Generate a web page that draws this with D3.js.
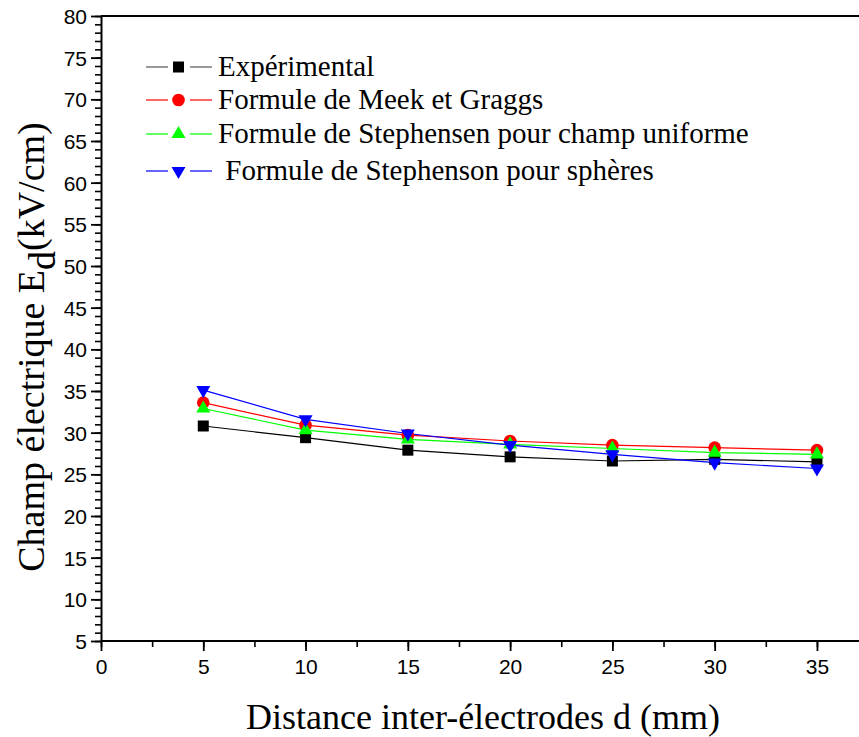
<!DOCTYPE html>
<html>
<head>
<meta charset="utf-8">
<script src="https://cdn.jsdelivr.net/npm/d3@7"></script>
<style>
  body { margin: 0; background: #fff; }
  svg { display: block; }
</style>
</head>
<body>
<div id="chart"></div>
<script>
  // data
  var distances = [5, 10, 15, 20, 25, 30, 35];
  var experimental = [30.8, 29.4, 27.9, 27.1, 26.6, 26.8, 26.5];
  var meekGraggs = [33.6, 30.9, 29.7, 29.0, 28.5, 28.2, 27.9];
  var stephensenUniform = [32.9, 30.3, 29.2, 28.6, 28.1, 27.6, 27.4];
  var stephensonSpheres = [35.1, 31.6, 29.9, 28.5, 27.4, 26.4, 25.7];
  var xTicks = [0, 5, 10, 15, 20, 25, 30, 35];
  var yTicks = [5, 10, 15, 20, 25, 30, 35, 40, 45, 50, 55, 60, 65, 70, 75, 80];
  var seriesNames = ['Expérimental', 'Formule de Meek et Graggs',
    'Formule de Stephensen pour champ uniforme', ' Formule de Stephenson pour sphères'];

(function() {
  'use strict';

  var width = 859, height = 737;
  var plotLeft = 101, plotTop = 16, plotBottom = 641;

  var series = [
    { name: seriesNames[0], values: experimental, color: '#000', shape: 'square' },
    { name: seriesNames[1], values: meekGraggs, color: '#ff0000', shape: 'circle' },
    { name: seriesNames[2], values: stephensenUniform, color: '#00ff00', shape: 'up' },
    { name: seriesNames[3], values: stephensonSpheres, color: '#0000ff', shape: 'down' }
  ];

  var svg = d3.select('#chart').append('svg')
      .attr('width', width).attr('height', height);

  var x = d3.scaleLinear().domain([0, 37.3]).range([plotLeft, 864]);
  var y = d3.scaleLinear().domain([5, 80]).range([plotBottom, plotTop]);

  // frame
  svg.append('line').attr('x1', plotLeft).attr('x2', width + 5)
      .attr('y1', plotTop).attr('y2', plotTop)
      .attr('stroke', '#000').attr('stroke-width', 2);

  // minor ticks
  var yMinor = d3.range(5, 80.01, 1);
  svg.append('g').attr('transform', 'translate(' + plotLeft + ',0)')
      .call(d3.axisLeft(y).tickValues(yMinor).tickSize(6).tickFormat(''))
      .call(function(g) { g.select('.domain').remove(); })
      .selectAll('line').attr('stroke-width', 1.6);
  var xMinor = d3.range(0, 37.3, 2.5);
  svg.append('g').attr('transform', 'translate(0,' + plotBottom + ')')
      .call(d3.axisBottom(x).tickValues(xMinor).tickSize(6).tickFormat(''))
      .call(function(g) { g.select('.domain').remove(); })
      .selectAll('line').attr('stroke-width', 1.6);

  // major axes
  var yAxis = svg.append('g').attr('transform', 'translate(' + plotLeft + ',0)')
      .call(d3.axisLeft(y).tickValues(yTicks).tickSize(10).tickPadding(4).tickSizeOuter(0));
  var xAxis = svg.append('g').attr('transform', 'translate(0,' + plotBottom + ')')
      .call(d3.axisBottom(x).tickValues(xTicks).tickSize(10).tickPadding(8).tickSizeOuter(0));
  xAxis.select('.domain').attr('d', 'M' + plotLeft + ',0H' + (width + 5));

  [xAxis, yAxis].forEach(function(g) {
    g.selectAll('.domain').attr('stroke-width', 2);
    g.selectAll('.tick line').attr('stroke-width', 1.8);
    g.selectAll('text').attr('font-family', 'Liberation Sans, Arial, sans-serif')
        .attr('font-size', 21).attr('fill', '#000');
  });
  yAxis.selectAll('text').attr('dy', '0.36em');

  // series lines
  var line = d3.line()
      .x(function(d, i) { return x(distances[i]); })
      .y(function(d) { return y(d); });

  series.forEach(function(s) {
    svg.append('path').datum(s.values)
        .attr('d', line)
        .attr('fill', 'none')
        .attr('stroke', s.color)
        .attr('stroke-width', 1.2);
  });

  function drawMarker(g, shape, color, cx, cy) {
    if (shape === 'square') {
      g.append('rect').attr('x', cx - 5.5).attr('y', cy - 5.5)
          .attr('width', 11).attr('height', 11).attr('fill', color);
    } else if (shape === 'circle') {
      g.append('circle').attr('cx', cx).attr('cy', cy).attr('r', 6.3).attr('fill', color);
    } else {
      var sym = d3.symbol().type(d3.symbolTriangle).size(85);
      g.append('path').attr('d', sym)
          .attr('transform', 'translate(' + cx + ',' + cy + ')' + (shape === 'down' ? ' rotate(180)' : ''))
          .attr('fill', color);
    }
  }

  // markers
  series.forEach(function(s) {
    var g = svg.append('g');
    s.values.forEach(function(v, i) {
      drawMarker(g, s.shape, s.color, x(distances[i]), y(v));
    });
  });

  // legend
  var legendY = [67, 100, 134, 171];
  series.forEach(function(s, i) {
    var g = svg.append('g').attr('transform', 'translate(0,' + legendY[i] + ')');
    var lineColor = i === 0 ? '#555' : s.color;
    g.append('line').attr('x1', 146).attr('x2', 168).attr('y1', 0).attr('y2', 0)
        .attr('stroke', lineColor).attr('stroke-width', 1.2);
    g.append('line').attr('x1', 190).attr('x2', 212).attr('y1', 0).attr('y2', 0)
        .attr('stroke', lineColor).attr('stroke-width', 1.2);
    drawMarker(g, s.shape, s.color, 178.5, 0);
    g.append('text').attr('x', 218).attr('y', 9)
        .attr('font-family', 'Liberation Serif, Times New Roman, serif')
        .attr('font-size', 29)
        .style('white-space', 'pre')
        .text(s.name);
  });

  // axis titles
  svg.append('text')
      .attr('x', 483).attr('y', 729)
      .attr('text-anchor', 'middle')
      .attr('font-family', 'Liberation Serif, Times New Roman, serif')
      .attr('font-size', 36)
      .text('Distance inter-électrodes d (mm)');

  var yTitle = svg.append('text')
      .attr('transform', 'translate(44,347) rotate(-90)')
      .attr('text-anchor', 'middle')
      .attr('font-family', 'Liberation Serif, Times New Roman, serif')
      .attr('font-size', 38);
  yTitle.append('tspan').text('Champ électrique E');
  yTitle.append('tspan').attr('dy', 11).text('d');
  yTitle.append('tspan').attr('dy', -11).text('(kV/cm)');
})();
</script>
</body>
</html>
